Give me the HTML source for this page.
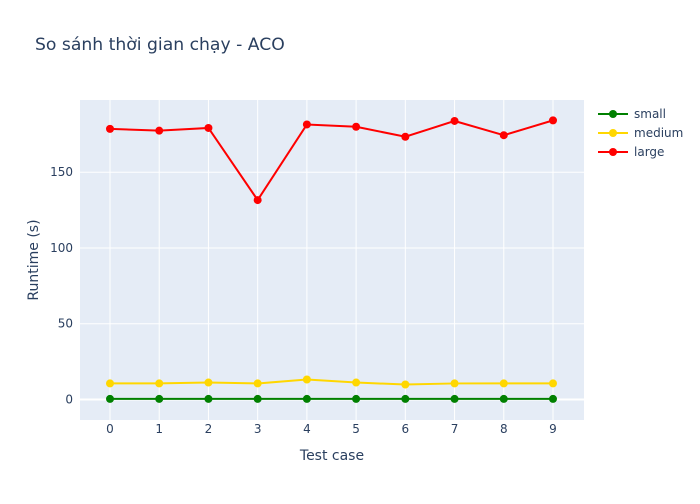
<!DOCTYPE html>
<html><head><meta charset="utf-8"><style>
body{margin:0;background:#fff;font-family:"DejaVu Sans",sans-serif;}
svg text{fill:#2a3f5f;font-family:"DejaVu Sans",sans-serif;}
</style></head><body>
<svg id="chart" width="700" height="500">
<rect width="700" height="500" fill="#fff"/>
<text x="35" y="50" font-size="17.2">So sánh thời gian chạy - ACO</text>
<rect x="80" y="100" width="504" height="320" fill="#e5ecf6"/>
<g id="grid"></g><g id="series"></g><g id="axes"></g>
<text x="332" y="460" font-size="14" text-anchor="middle">Test case</text>
<text transform="translate(38,260) rotate(-90)" font-size="14" text-anchor="middle">Runtime (s)</text>
<g id="legend"></g>
</svg>
<script>
const categories=[0,1,2,3,4,5,6,7,8,9];
const small=[0.4,0.4,0.4,0.4,0.4,0.4,0.4,0.4,0.4,0.4];
const medium=[10.6,10.6,11.2,10.6,13.2,11.2,9.9,10.6,10.6,10.6];
const large=[178.6,177.4,179.2,131.6,181.5,180.0,173.4,183.8,174.4,184.2];
const yTicks=[0,50,100,150];
const seriesNames=["small","medium","large"];
const seriesColors=["green","gold","red"];
const NS="http://www.w3.org/2000/svg";
const xs=i=>110+i*(553-110)/9;
const ys=v=>399.5-v*(399.5-172.2)/150;
function mk(t,a,p){const e=document.createElementNS(NS,t);for(const k in a)e.setAttribute(k,a[k]);p.appendChild(e);return e;}
const grid=document.getElementById('grid'),axes=document.getElementById('axes');
categories.forEach(c=>{const l=mk('line',{x1:xs(c),x2:xs(c),y1:100,y2:420,stroke:'#fff','stroke-width':1},grid);

const t=mk('text',{x:xs(c),y:433,'font-size':12,'text-anchor':'middle'},axes);t.textContent=c;
});
yTicks.forEach(v=>{const l=mk('line',{x1:80,x2:584,y1:ys(v),y2:ys(v),stroke:'#fff','stroke-width':v===0?2:1},grid);

const t=mk('text',{x:73,y:ys(v)+4,'font-size':12,'text-anchor':'end'},axes);t.textContent=v;
});
const sg=document.getElementById('series');
[small,medium,large].forEach((d,si)=>{const g=mk('g',{},sg);

mk('polyline',{points:d.map((v,i)=>xs(categories[i])+','+ys(v)).join(' '),fill:'none',stroke:seriesColors[si],'stroke-width':2},g);
d.forEach((v,i)=>{const c=mk('circle',{cx:xs(categories[i]),cy:ys(v),r:4,fill:seriesColors[si]},g);
});});
const lg=document.getElementById('legend');
seriesNames.forEach((n,i)=>{const g=mk('g',{},lg);const y=114+i*19;

mk('line',{x1:598,x2:628,y1:y,y2:y,stroke:seriesColors[i],'stroke-width':2},g);
mk('circle',{cx:613,cy:y,r:4,fill:seriesColors[i]},g);
const t=mk('text',{x:634,y:y+4,'font-size':12},g);t.textContent=n;});
</script>
</body></html>
